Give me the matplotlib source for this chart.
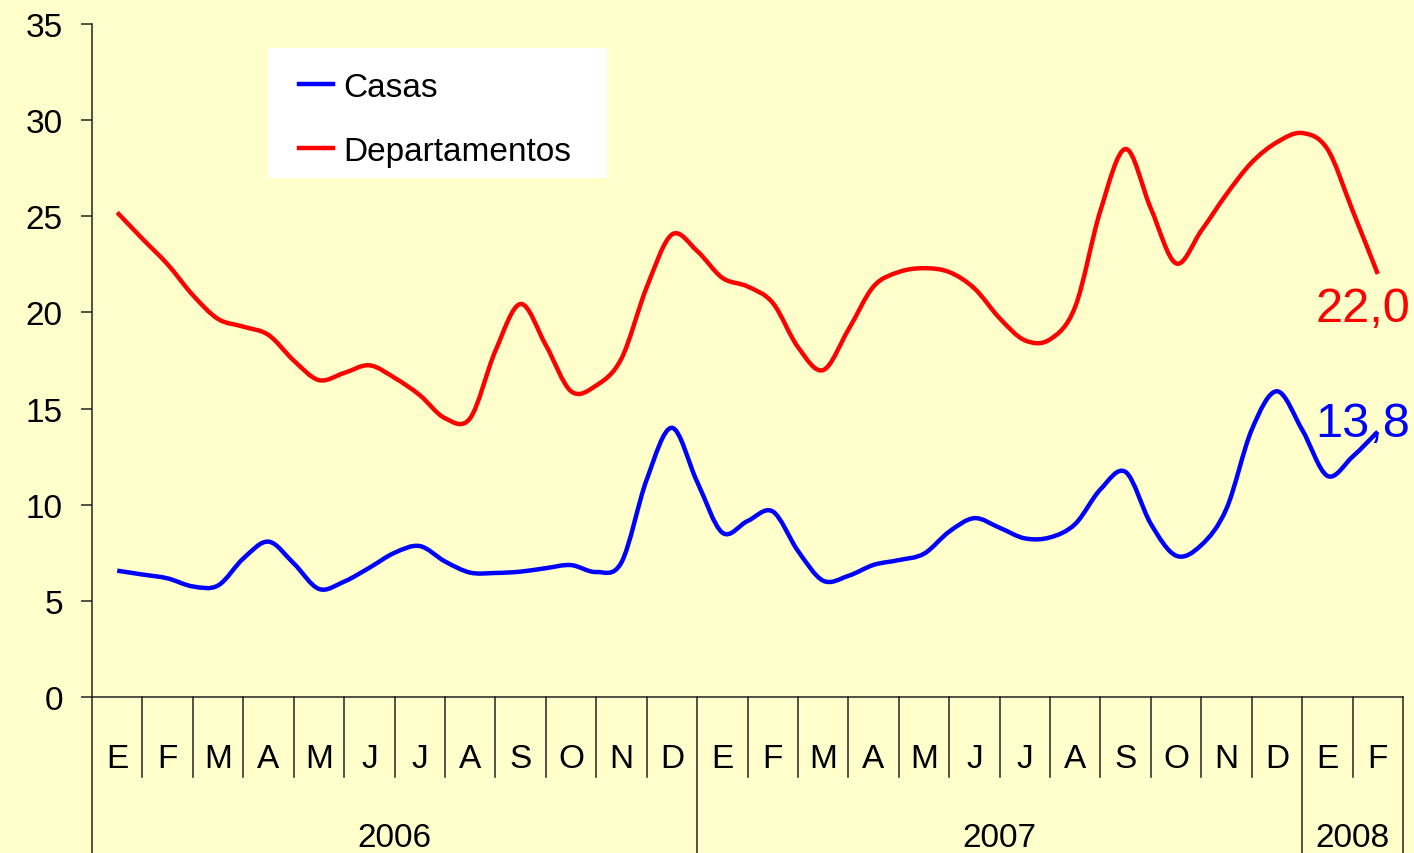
import matplotlib
matplotlib.use("Agg")
import matplotlib.pyplot as plt
import matplotlib.transforms as mtransforms
from matplotlib.lines import Line2D
from matplotlib.patches import PathPatch, Rectangle
from matplotlib.path import Path
import numpy as np

plt.rcParams["font.family"] = ["Liberation Sans", "DejaVu Sans"]

# Category axis: months (Spanish initials) and years
months = ["E", "F", "M", "A", "M", "J", "J", "A", "S", "O", "N", "D",
          "E", "F", "M", "A", "M", "J", "J", "A", "S", "O", "N", "D",
          "E", "F"]
years = ["2006", "2007", "2008"]
months_per_year = [12, 12, 2]

# Readings every half month, from January 2006 to February 2008
casas = [6.57, 6.37, 6.17, 5.75, 5.8, 7.2, 8.08, 6.95, 5.62, 6.0,
         6.72, 7.5, 7.85, 7.05, 6.47, 6.45, 6.52, 6.7, 6.86, 6.5,
         7.0, 11.3, 14.0, 11.2, 8.55, 9.15, 9.65, 7.6, 6.05, 6.3,
         6.87, 7.12, 7.45, 8.6, 9.3, 8.8, 8.25, 8.3, 9.0, 10.8,
         11.7, 9.0, 7.35, 7.9, 9.8, 13.9, 15.9, 13.9, 11.5, 12.5,
         13.8]
departamentos = [25.2, 23.83, 22.5, 20.9, 19.66, 19.26, 18.83, 17.5, 16.48, 16.85,
                 17.25, 16.6, 15.7, 14.5, 14.5, 18.0, 20.44, 18.3, 15.9, 16.2,
                 17.6, 21.3, 24.05, 23.2, 21.8, 21.35, 20.5, 18.2, 17.0, 19.1,
                 21.35, 22.1, 22.3, 22.1, 21.25, 19.7, 18.55, 18.6, 20.3, 25.3,
                 28.5, 25.4, 22.55, 24.25, 26.15, 27.8, 28.85, 29.33, 28.5, 25.3,
                 22.0]
series_names = ["Casas", "Departamentos"]
series_colors = ["#0000FF", "#FF0000"]
last_labels = ["13,8", "22,0"]

BG = "#FFFFCC"
AXIS = "#222222"


def smooth_path(xs, ys):
    """Catmull-Rom style smoothed line, like a spreadsheet 'smoothed line'."""
    pts = np.column_stack([xs, ys])
    p = np.vstack([pts[0], pts, pts[-1]])
    verts = [pts[0]]
    codes = [Path.MOVETO]
    for i in range(1, len(p) - 2):
        c1 = p[i] + (p[i + 1] - p[i - 1]) / 6
        c2 = p[i + 1] - (p[i + 2] - p[i]) / 6
        verts += [c1, c2, p[i + 1]]
        codes += [Path.CURVE4] * 3
    return Path(verts, codes)


fig = plt.figure(figsize=(14.14, 8.54), dpi=100, facecolor=BG)
ax = fig.add_axes([92 / 1414, 156 / 854, 1311 / 1414, 673 / 854])
ax.set_facecolor(BG)

x = np.arange(len(casas)) * 0.5
for vals, color, txt, dy in zip([casas, departamentos], series_colors,
                                last_labels, [-3, -34]):
    ax.add_patch(PathPatch(smooth_path(x, vals), facecolor="none",
                           edgecolor=color, lw=3.2, capstyle="butt",
                           joinstyle="round"))
    ax.annotate(txt, (x[-1], vals[-1]), xytext=(-11, dy),
                textcoords="offset points", ha="center", va="baseline",
                fontsize=35, color=color, annotation_clip=False)

ax.set_xlim(-0.5, len(months) - 0.5)
ax.set_ylim(0, 35)
ax.set_yticks(range(0, 36, 5))
ax.set_xticks([])
ax.tick_params(axis="y", direction="out", length=8, width=1.1,
               color=AXIS, pad=13, labelsize=24)
for side in ["top", "right"]:
    ax.spines[side].set_visible(False)
for side in ["left", "bottom"]:
    ax.spines[side].set_color(AXIS)
    ax.spines[side].set_linewidth(1.1)

# Two-level category axis below the plot
trans = mtransforms.blended_transform_factory(ax.transData, ax.transAxes)
month_bottom = -0.119
year_bottom = -0.235
year_edges = np.concatenate([[0], np.cumsum(months_per_year)]) - 0.5
for i, m in enumerate(months):
    ax.text(i, -0.104, m, transform=trans, ha="center", va="baseline",
            fontsize=24)
    edge = i - 0.5
    if edge not in year_edges:
        ax.plot([edge, edge], [0, month_bottom], transform=trans,
                color=AXIS, lw=1.1, clip_on=False)
for edge in year_edges:
    ax.plot([edge, edge], [0, year_bottom], transform=trans,
            color=AXIS, lw=1.1, clip_on=False)
for yr, a, b in zip(years, year_edges[:-1], year_edges[1:]):
    ax.text((a + b) / 2, -0.2214, yr, transform=trans, ha="center",
            va="baseline", fontsize=24)

# Legend drawn as a plain white box in figure pixels
fig.patches.append(Rectangle((268, 854 - 179), 339, 130,
                             transform=None, facecolor="white",
                             edgecolor="none", zorder=5))
for k, (name, color) in enumerate(zip(series_names, series_colors)):
    yc = 854 - (85 + 64 * k)
    fig.lines.append(Line2D([299, 333], [yc, yc], transform=None,
                            color=color, lw=3.2, zorder=6))
    fig.text(343 / 1414, yc / 854, name, ha="left", va="center_baseline",
             fontsize=24, zorder=6)

fig.savefig("out.png", dpi=100, facecolor=BG)
